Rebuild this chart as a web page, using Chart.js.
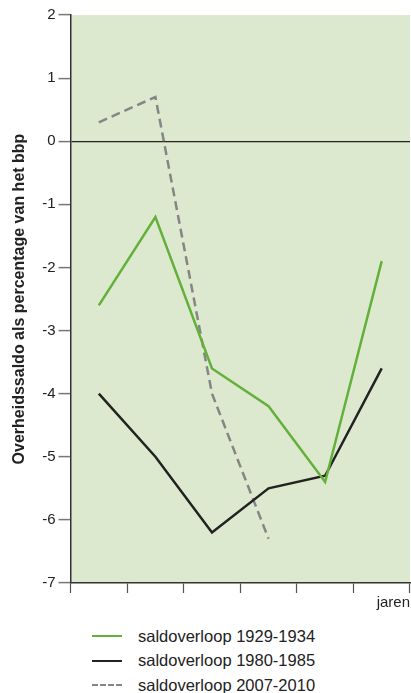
<!DOCTYPE html>
<html>
<head>
<meta charset="utf-8">
<script src="https://cdn.jsdelivr.net/npm/chart.js@4"></script>
<style>
  body { margin: 0; background: #fff; font-family: "Liberation Sans", Arial, sans-serif; }
  #wrap { position: relative; width: 411px; height: 614px; }
  #legend { position: absolute; left: 92px; top: 624px; }
  .row { display: flex; align-items: center; height: 24.5px; font-size: 16.5px; color: #222; }
  .swatch { width: 30px; height: 0; margin-right: 16px; border-top: 2.5px solid; }
</style>
</head>
<body>
<div id="wrap"><canvas id="saldo"></canvas></div>
<div id="legend"></div>
<script>
//Setup data
const years = ["1", "2", "3", "4", "5", "6"];
const saldo1929 = [-2.6, -1.2, -3.6, -4.2, -5.4, -1.9];
const saldo1980 = [-4.0, -5.0, -6.2, -5.5, -5.3, -3.6];
const saldo2007 = [0.3, 0.7, -4.0, -6.3, null, null];
const seriesNames = ["saldoverloop 1929-1934", "saldoverloop 1980-1985", "saldoverloop 2007-2010"];
const yTicks = [2, 1, 0, -1, -2, -3, -4, -5, -6, -7];

const colors = ["#63b03a", "#222222", "#858585"];

//------------------------------------------

//green plot background
const plotBg = {
  id: 'plotBg',
  beforeDraw(chart) {
    const {ctx, chartArea: {top, left, width, height}} = chart;
    ctx.save();
    ctx.fillStyle = '#dde9cf';
    ctx.fillRect(left, top, width, height);
    ctx.restore();
  }
};

//------------------------------------------
const config = {
  type: "line",
  data: {
    labels: years,
    datasets: [
      {label: seriesNames[0], data: saldo1929, borderColor: colors[0], borderWidth: 2.5},
      {label: seriesNames[1], data: saldo1980, borderColor: colors[1], borderWidth: 2.5},
      {label: seriesNames[2], data: saldo2007, borderColor: colors[2], borderWidth: 2.5, borderDash: [9, 5]}
    ]
  },
  options: {
    responsive: false,
    animation: false,
    elements: {point: {radius: 0}, line: {tension: 0}},
    layout: {padding: {top: 15, right: 1, left: 10, bottom: 2}},
    plugins: {legend: {display: false}, tooltip: {enabled: false}},
    scales: {
      x: {
        offset: true,
        grid: {offset: true, drawOnChartArea: false, tickLength: 10, tickColor: '#555', tickWidth: 1.2},
        border: {color: '#333', width: 1.5},
        ticks: {display: false},
        title: {display: true, text: 'jaren', align: 'end', color: '#222',
                font: {size: 15, family: 'Liberation Sans'}, padding: {top: 1, bottom: 0}}
      },
      y: {
        min: -7, max: 2,
        afterBuildTicks: (axis) => { axis.ticks = yTicks.map(v => ({value: v})); },
        grid: {
          color: (c) => c.tick && c.tick.value === 0 ? '#222' : 'rgba(0,0,0,0)',
          lineWidth: 1.2,
          tickLength: 12, tickColor: '#777', tickWidth: 1.5
        },
        border: {color: '#333', width: 1.5},
        ticks: {color: '#222', padding: 3, font: {size: 15, family: 'Liberation Sans'}},
        title: {display: true, text: 'Overheidssaldo als percentage van het bbp', color: '#222',
                font: {size: 16, weight: 'bold', family: 'Liberation Sans'}, padding: {top: 0, bottom: 10}}
      }
    }
  },
  plugins: [plotBg]
};

//Render chart
const canvas = document.getElementById("saldo");
canvas.width = 411; canvas.height = 614;
const saldoChart = new Chart(canvas, config);

//legend below the chart
const legend = document.getElementById("legend");
seriesNames.forEach((name, i) => {
  const row = document.createElement("div");
  row.className = "row";
  const sw = document.createElement("span");
  sw.className = "swatch";
  sw.style.borderTopColor = colors[i];
  if (i === 2) sw.style.borderTopStyle = "dashed";
  row.appendChild(sw);
  row.appendChild(document.createTextNode(name));
  legend.appendChild(row);
});
</script>
</body>
</html>
